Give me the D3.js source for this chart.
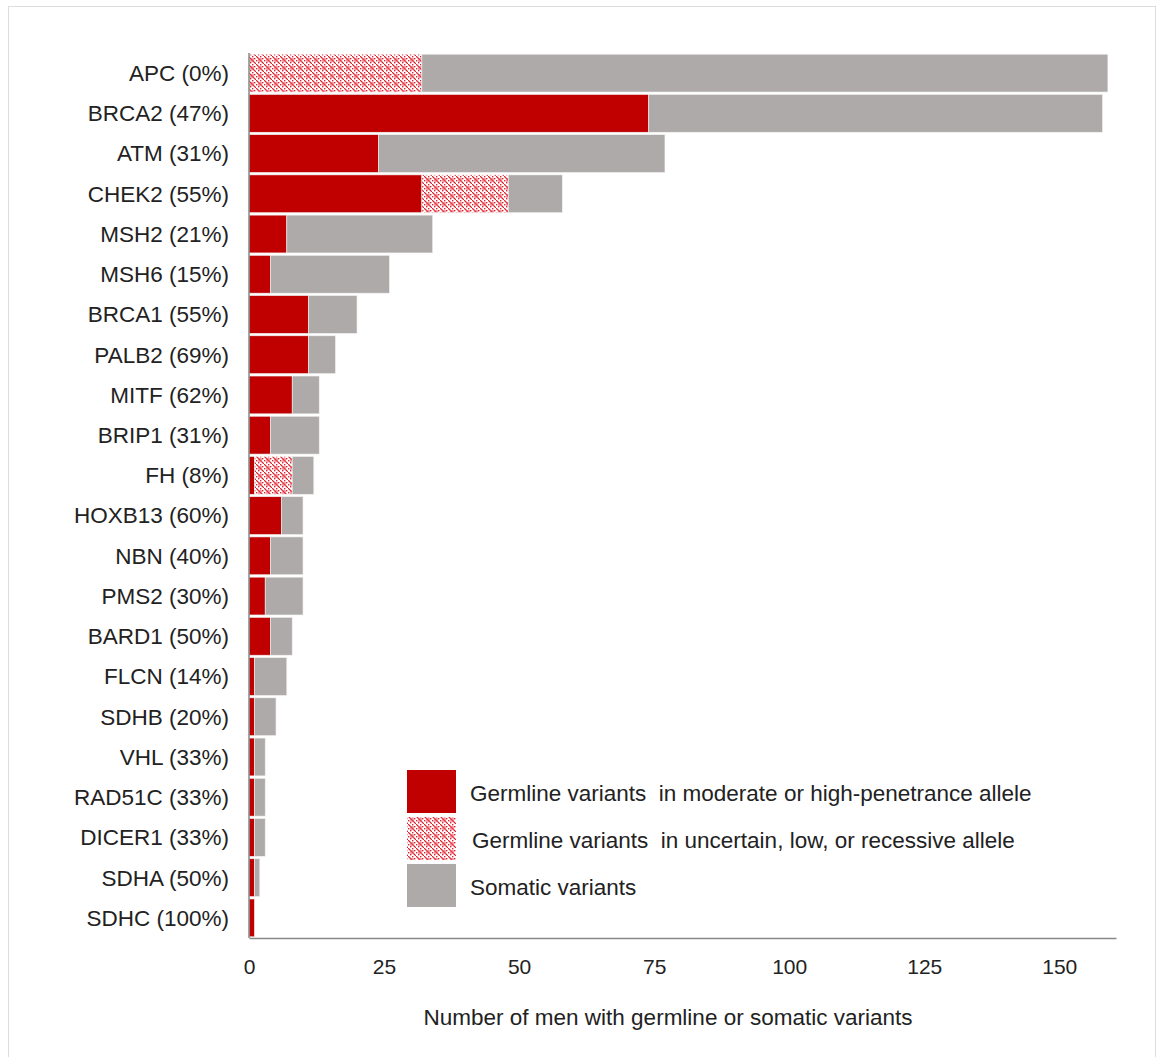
<!DOCTYPE html>
<html>
<head>
<meta charset="utf-8">
<script src="https://cdn.jsdelivr.net/npm/d3@7"></script>
<style>
  body{margin:0;background:#fff;overflow:hidden;}
  #frame{position:absolute;left:8px;top:6px;width:1148px;height:1070px;border:1.5px solid #ddd;box-sizing:border-box;}
  svg{position:absolute;left:0;top:0;font-family:"Liberation Sans",Arial,sans-serif;}
</style>
</head>
<body>
<div id="frame"></div>
<svg id="chart" width="1157" height="1057"></svg>
<script>
var genes=["APC","BRCA2","ATM","CHEK2","MSH2","MSH6","BRCA1","PALB2","MITF","BRIP1","FH","HOXB13","NBN","PMS2","BARD1","FLCN","SDHB","VHL","RAD51C","DICER1","SDHA","SDHC"];
var pcts=["0%","47%","31%","55%","21%","15%","55%","69%","62%","31%","8%","60%","40%","30%","50%","14%","20%","33%","33%","33%","50%","100%"];
var germHigh=[0,74,24,32,7,4,11,11,8,4,1,6,4,3,4,1,1,1,1,1,1,1];
var germLow=[32,0,0,16,0,0,0,0,0,0,7,0,0,0,0,0,0,0,0,0,0,0];
var somatic=[127,84,53,10,27,22,9,5,5,9,4,4,6,7,4,6,4,2,2,2,1,0];
var xTicks=[0,25,50,75,100,125,150];
var legendLabels=["Germline variants  in moderate or high-penetrance allele","Germline variants  in uncertain, low, or recessive allele","Somatic variants"];

var svg=d3.select("#chart");
var defs=svg.append("defs");
var pat=defs.append("pattern").attr("id","hatch").attr("patternUnits","userSpaceOnUse").attr("width",8).attr("height",8);
pat.append("rect").attr("width",8).attr("height",8).attr("fill","#fff");
[[0,0],[2,2],[4,0],[6,2],[0,4],[2,6],[4,4],[6,6],[3,3],[1,1],[5,5],[7,7]].forEach(function(p){
  pat.append("rect").attr("x",p[0]).attr("y",p[1]).attr("width",1.4).attr("height",1.4).attr("fill","#dc2834");
});
pat.append("rect").attr("x",2).attr("y",2).attr("width",4).attr("height",4).attr("fill","#e84a55").attr("opacity",0.5);

var x=d3.scaleLinear().domain([0,160.5]).range([249,1116]);
var y=d3.scaleBand().domain(genes).range([53,938]).paddingInner(0.06).paddingOuter(0.03);

var rows=genes.map(function(g,i){return {g:g,a:germHigh[i],b:germLow[i],c:somatic[i]};});
var segs=[];
rows.forEach(function(r){
  segs.push({g:r.g,x0:0,x1:r.a,fill:"#C00000"});
  segs.push({g:r.g,x0:r.a,x1:r.a+r.b,fill:"url(#hatch)"});
  segs.push({g:r.g,x0:r.a+r.b,x1:r.a+r.b+r.c,fill:"#AEAAAA"});
});
svg.append("g").selectAll("rect").data(segs.filter(function(s){return s.x1>s.x0;})).join("rect")
  .attr("x",function(d){return x(d.x0);})
  .attr("y",function(d){return y(d.g);})
  .attr("width",function(d){return x(d.x1)-x(d.x0);})
  .attr("height",y.bandwidth())
  .attr("fill",function(d){return d.fill;})
  .attr("stroke","#f2f2f2").attr("stroke-width",0.6);

// category labels
svg.append("g").selectAll("text").data(genes).join("text")
  .attr("x",229).attr("y",function(d){return y(d)+y.bandwidth()/2;})
  .attr("dy","0.35em").attr("text-anchor","end")
  .attr("font-size",22.5).attr("fill","#222")
  .text(function(d,i){return d+" ("+pcts[i]+")";});

// axes
var xAxis=svg.append("g").attr("transform","translate(0,938)")
  .call(d3.axisBottom(x).tickValues(xTicks).tickSize(0).tickPadding(21));
xAxis.select(".domain").attr("stroke","#888").attr("stroke-width",1.5);
xAxis.selectAll("text").attr("font-size",21).attr("fill","#222").attr("font-family","Liberation Sans,Arial,sans-serif");
svg.append("line").attr("x1",249).attr("x2",249).attr("y1",53).attr("y2",938).attr("stroke","#888").attr("stroke-width",1.5);

svg.append("text").attr("x",668).attr("y",1017).attr("dy","0.35em").attr("text-anchor","middle")
  .attr("font-size",22.5).attr("fill","#222").text("Number of men with germline or somatic variants");

// legend
var legFills=["#C00000","url(#hatch)","#AEAAAA"];
var legY=[770,817,864];
var lg=svg.append("g");
legFills.forEach(function(f,i){
  lg.append("rect").attr("x",407).attr("y",legY[i]).attr("width",49).attr("height",43).attr("fill",f);
  lg.append("text").attr("x",i==1?472:470).attr("y",legY[i]+23).attr("dy","0.35em")
    .attr("font-size",22.5).attr("fill","#222").style("white-space","pre").text(legendLabels[i]);
});
</script>
</body>
</html>
